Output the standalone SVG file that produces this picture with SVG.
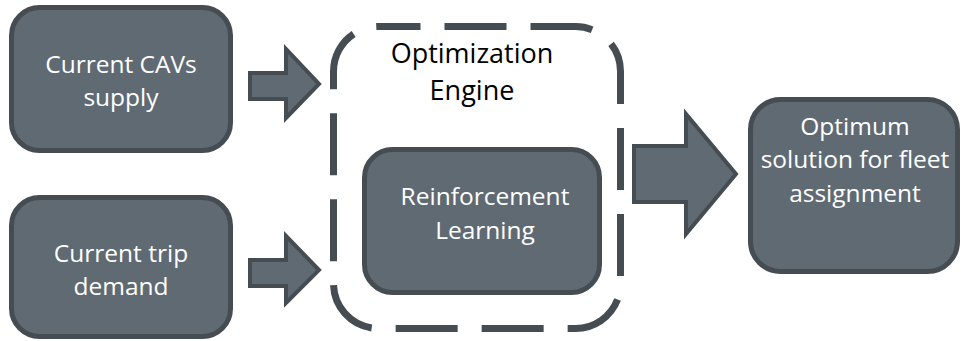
<svg xmlns="http://www.w3.org/2000/svg" width="963" height="341" viewBox="0 0 963 341">
<style>
.box{fill:#5f6a73;stroke:#454c52;stroke-width:5}
.arr{fill:#5f6a73;stroke:#454c52;stroke-width:4;stroke-linejoin:miter}
.wt{fill:#ffffff;font-family:"Open Sans","Noto Sans",sans-serif;font-size:24.5px;text-anchor:middle}
.bt{fill:#000000;font-family:"Open Sans","Noto Sans",sans-serif;font-size:27px;text-anchor:middle}
</style>
<rect width="963" height="341" fill="#ffffff"/>
<g id="connectors">
<polygon class="arr" points="250,73 286,73 286,49 319,84 286,118 286,99 250,99"/>
<polygon class="arr" points="250,260 286,260 286,236 319,270 286,303 286,286 250,286"/>
<polygon class="arr" points="634,146 686,146 686,114 736,174 686,234 686,202 634,202"/>
</g>
<g id="engine">
<rect x="333.5" y="26.5" width="287" height="302" rx="45" fill="none" stroke="#454c52" stroke-width="7" stroke-dasharray="62,24" stroke-dashoffset="20"/>
<text class="bt" x="472" y="63">Optimization</text>
<text class="bt" x="472" y="100">Engine</text>
</g>
<g id="supply">
<rect class="box" x="11.5" y="7.5" width="219" height="143" rx="28"/>
<text class="wt" x="121" y="73">Current CAVs</text>
<text class="wt" x="121" y="106">supply</text>
</g>
<g id="demand">
<rect class="box" x="11.5" y="197.5" width="219" height="139" rx="28"/>
<text class="wt" x="121" y="262">Current trip</text>
<text class="wt" x="121" y="295">demand</text>
</g>
<g id="rl">
<rect class="box" x="364.5" y="149.5" width="235" height="143" rx="28"/>
<text class="wt" x="485" y="205">Reinforcement</text>
<text class="wt" x="485" y="239">Learning</text>
</g>
<g id="optimum">
<rect class="box" x="750.5" y="99.5" width="207" height="172" rx="30"/>
<text class="wt" x="855" y="135">Optimum</text>
<text class="wt" x="855" y="168">solution for fleet</text>
<text class="wt" x="855" y="202">assignment</text>
</g>
</svg>
